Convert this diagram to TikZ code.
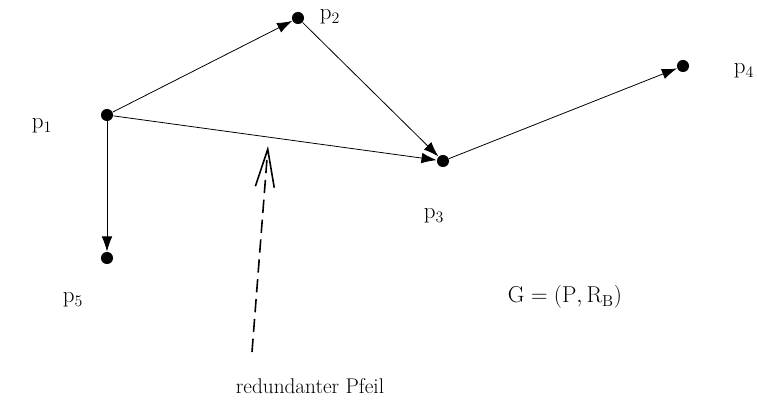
\documentclass[tikz,border=0pt]{standalone}
\usepackage{tikz}
\usetikzlibrary{arrows.meta}

\tikzset{
  punkt/.style={circle,fill=black,inner sep=0pt,minimum size=0.32cm},
  marke/.style={font=\fontsize{16}{18}\selectfont},
  formel/.style={font=\fontsize{17}{19}\selectfont}
}

\begin{document}
\begin{tikzpicture}[x=0.0264583cm, y=-0.0264583cm, >={Latex[length=0.4cm,width=0.28cm]}, semithick]
\useasboundingbox (0,0) rectangle (757,406);

\node[punkt] (p1) at (107,115) {};
\node[punkt] (p2) at (298,18) {};
\node[punkt] (p3) at (443,161) {};
\node[punkt] (p4) at (683,66) {};
\node[punkt] (p5) at (107,258) {};

\node[formel] (l1) at (42,126) {$\mathrm{p}_1$};
\node[formel] (l2) at (330,17) {$\mathrm{p}_2$};
\node[formel] (l3) at (434,216) {$\mathrm{p}_3$};
\node[formel] (l4) at (744,71) {$\mathrm{p}_4$};
\node[formel] (l5) at (73,300) {$\mathrm{p}_5$};

\draw[->] (p1) -- (p2);
\draw[->] (p2) -- (p3);
\draw[->] (p1) -- (p3);
\draw[->] (p3) -- (p4);
\draw[->] (p1) -- (p5);

% redundanter Pfeil
\coordinate (fuss) at (252,352);
\coordinate (spitze) at (268,146);
\draw[dash pattern=on 10pt off 5pt,line width=1.2pt,-{Straight Barb[length=1cm,width=0.5cm,line width=1.2pt]}] (fuss) -- (spitze);
\node[marke] (text) at (310,386) {redundanter Pfeil};

\node[formel] (graph) at (565,297) {$\mathrm{G}=(\mathrm{P},\mathrm{R}_\mathrm{B})$};
\end{tikzpicture}
\end{document}
